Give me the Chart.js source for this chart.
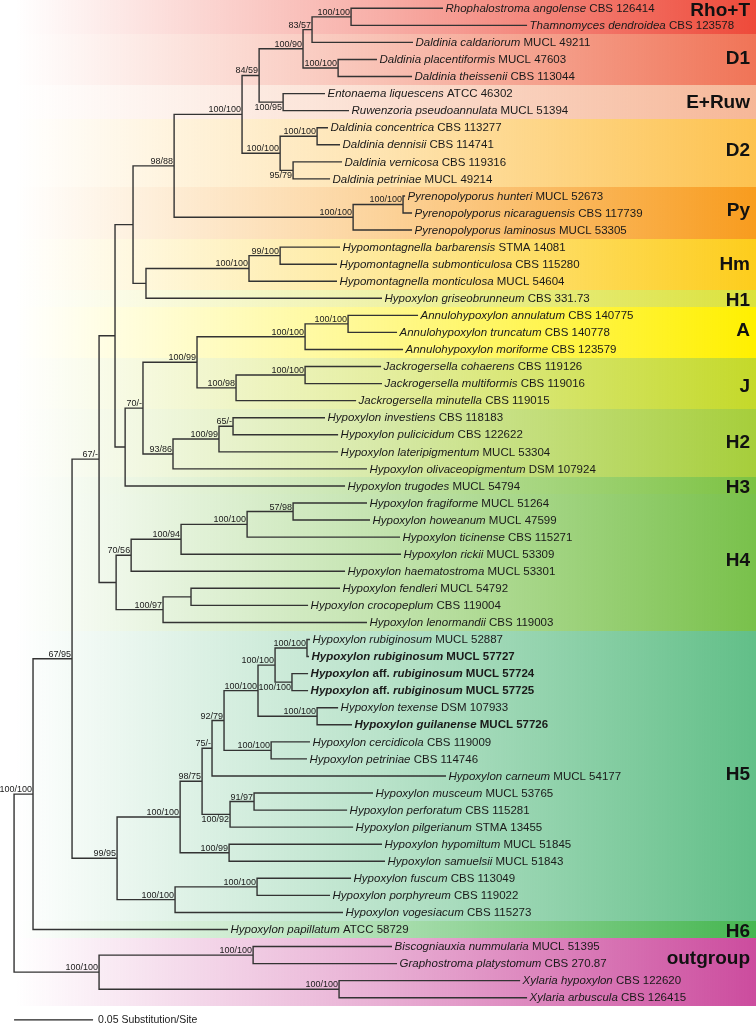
<!DOCTYPE html>
<html>
<head>
<meta charset="utf-8">
<script src="https://cdn.jsdelivr.net/npm/chart.js@4.4.1/dist/chart.umd.min.js"></script>
<style>
  html, body { margin: 0; padding: 0; background: #fff; }
  #wrap { width: 756px; height: 1024px; }
</style>
</head>
<body>
<div id="wrap"><canvas id="tree" width="756" height="1024"></canvas></div>
<script>
// Tips, top to bottom (row = index)
const tipTaxa = [
  'Rhophalostroma angolense', 'Thamnomyces dendroidea', 'Daldinia caldariorum', 'Daldinia placentiformis',
  'Daldinia theissenii', 'Entonaema liquescens', 'Ruwenzoria pseudoannulata', 'Daldinia concentrica',
  'Daldinia dennisii', 'Daldinia vernicosa', 'Daldinia petriniae', 'Pyrenopolyporus hunteri',
  'Pyrenopolyporus nicaraguensis', 'Pyrenopolyporus laminosus', 'Hypomontagnella barbarensis',
  'Hypomontagnella submonticulosa', 'Hypomontagnella monticulosa', 'Hypoxylon griseobrunneum',
  'Annulohypoxylon annulatum', 'Annulohypoxylon truncatum', 'Annulohypoxylon moriforme',
  'Jackrogersella cohaerens', 'Jackrogersella multiformis', 'Jackrogersella minutella',
  'Hypoxylon investiens', 'Hypoxylon pulicicidum', 'Hypoxylon lateripigmentum', 'Hypoxylon olivaceopigmentum',
  'Hypoxylon trugodes', 'Hypoxylon fragiforme', 'Hypoxylon howeanum', 'Hypoxylon ticinense',
  'Hypoxylon rickii', 'Hypoxylon haematostroma', 'Hypoxylon fendleri', 'Hypoxylon crocopeplum',
  'Hypoxylon lenormandii', 'Hypoxylon rubiginosum', 'Hypoxylon rubiginosum', 'Hypoxylon aff. rubiginosum',
  'Hypoxylon aff. rubiginosum', 'Hypoxylon texense', 'Hypoxylon guilanense', 'Hypoxylon cercidicola',
  'Hypoxylon petriniae', 'Hypoxylon carneum', 'Hypoxylon musceum', 'Hypoxylon perforatum',
  'Hypoxylon pilgerianum', 'Hypoxylon hypomiltum', 'Hypoxylon samuelsii', 'Hypoxylon fuscum',
  'Hypoxylon porphyreum', 'Hypoxylon vogesiacum', 'Hypoxylon papillatum', 'Biscogniauxia nummularia',
  'Graphostroma platystomum', 'Xylaria hypoxylon', 'Xylaria arbuscula'
];
const tipStrains = [
  'CBS 126414', 'CBS 123578', 'MUCL 49211', 'MUCL 47603', 'CBS 113044', 'ATCC 46302', 'MUCL 51394',
  'CBS 113277', 'CBS 114741', 'CBS 119316', 'MUCL 49214', 'MUCL 52673', 'CBS 117739', 'MUCL 53305',
  'STMA 14081', 'CBS 115280', 'MUCL 54604', 'CBS 331.73', 'CBS 140775', 'CBS 140778', 'CBS 123579',
  'CBS 119126', 'CBS 119016', 'CBS 119015', 'CBS 118183', 'CBS 122622', 'MUCL 53304', 'DSM 107924',
  'MUCL 54794', 'MUCL 51264', 'MUCL 47599', 'CBS 115271', 'MUCL 53309', 'MUCL 53301', 'MUCL 54792',
  'CBS 119004', 'CBS 119003', 'MUCL 52887', 'MUCL 57727', 'MUCL 57724', 'MUCL 57725', 'DSM 107933',
  'MUCL 57726', 'CBS 119009', 'CBS 114746', 'MUCL 54177', 'MUCL 53765', 'CBS 115281', 'STMA 13455',
  'MUCL 51845', 'MUCL 51843', 'CBS 113049', 'CBS 119022', 'CBS 115273', 'ATCC 58729', 'MUCL 51395',
  'CBS 270.87', 'CBS 122620', 'CBS 126415'
];
// distance from root, substitutions/site
const tipDepth = [
  0.2715, 0.3247, 0.2525, 0.2297, 0.2519, 0.1968, 0.2120, 0.1987, 0.2063, 0.2076,
  0.2000, 0.2475, 0.2519, 0.2519, 0.2063, 0.2044, 0.2044, 0.2329, 0.2557, 0.2424,
  0.2462, 0.2323, 0.2329, 0.2165, 0.1968, 0.2051, 0.2051, 0.2234, 0.2095, 0.2234,
  0.2253, 0.2443, 0.2449, 0.2095, 0.2063, 0.1861, 0.2234, 0.1873, 0.1867, 0.1861,
  0.1861, 0.2051, 0.2139, 0.1873, 0.1854, 0.2734, 0.2272, 0.2108, 0.2146, 0.2329,
  0.2348, 0.2133, 0.2000, 0.2082, 0.1354, 0.2392, 0.2424, 0.3203, 0.3247
];
const boldTips = [38, 39, 40, 42];

// Internal nodes: id = 100 + index; kids are tip rows or node ids
const nodeKids = [
  [0, 1], [100, 2], [3, 4], [101, 102], [5, 6], [103, 104], [7, 8], [9, 10], [106, 107], [105, 108],
  [11, 12], [110, 13], [109, 111], [14, 15], [113, 16], [114, 17], [112, 115], [18, 19], [117, 20], [21, 22],
  [119, 23], [118, 120], [24, 25], [122, 26], [123, 27], [121, 124], [125, 28], [116, 126], [29, 30], [128, 31],
  [129, 32], [130, 33], [34, 35], [132, 36], [131, 133], [127, 134], [37, 38], [39, 40], [136, 137], [41, 42],
  [138, 139], [43, 44], [140, 141], [142, 45], [46, 47], [144, 48], [143, 145], [49, 50], [146, 147], [51, 52],
  [149, 53], [148, 150], [135, 151], [152, 54], [55, 56], [57, 58], [154, 155], [153, 156]
];
const nodeDepth = [
  0.2133, 0.1886, 0.2051, 0.1829, 0.1703, 0.1551, 0.1918, 0.1766, 0.1684, 0.1443,
  0.2462, 0.2146, 0.1013, 0.1684, 0.1487, 0.0835, 0.0753, 0.2114, 0.1842, 0.1842,
  0.1405, 0.1158, 0.1386, 0.1297, 0.1006, 0.0816, 0.0703, 0.0639, 0.1766, 0.1475,
  0.1057, 0.0741, 0.1120, 0.0943, 0.0646, 0.0538, 0.1854, 0.1759, 0.1652, 0.1918,
  0.1544, 0.1627, 0.1329, 0.1253, 0.1519, 0.1367, 0.1190, 0.1361, 0.1051, 0.1538,
  0.1019, 0.0652, 0.0367, 0.0120, 0.1513, 0.2057, 0.0538, 0
];
const nodeSupport = [
  '100/100', '83/57', '100/100', '100/90', '100/95', '84/59', '100/100', '95/79', '100/100', '100/100',
  '100/100', '100/100', '98/88', '99/100', '100/100', '', '', '100/100', '100/100', '100/100',
  '100/98', '100/99', '65/-', '100/99', '93/86', '70/-', '', '', '57/98', '100/100',
  '100/94', '70/56', '', '100/97', '', '67/-', '100/100', '100/100', '100/100', '100/100',
  '100/100', '100/100', '92/79', '75/-', '91/97', '100/92', '98/75', '100/99', '100/100', '100/100',
  '100/100', '99/95', '67/95', '100/100', '100/100', '100/100', '100/100', ''
];
const supportBelow = [104, 107, 137, 145];

// Clades (first row, last row)
const groupNames = ['Rho+T', 'D1', 'E+Ruw', 'D2', 'Py', 'Hm', 'H1', 'A', 'J', 'H2', 'H3', 'H4', 'H5', 'H6', 'outgroup'];
const groupFirst = [0, 2, 5, 7, 11, 14, 17, 18, 21, 24, 28, 29, 37, 54, 55];
const groupLast  = [1, 4, 6, 10, 13, 16, 17, 20, 23, 27, 28, 36, 53, 54, 58];
const groupLabelRow = [0.1, 2.9, 5.45, 8.3, 11.8, 14.95, 17.1, 18.85, 22.1, 25.4, 28.05, 32.35, 44.85, 54.05, 55.65];
const groupColors = ['#ee4a3a', '#f07457', '#f6b798', '#fdc24f', '#f89c1e', '#fdcd1c', '#dbe23c', '#fff000',
                     '#c4d92a', '#a6ce3b', '#7cc242', '#79c14b', '#62bf88', '#45b650', '#cc4c9e'];

const scaleBarLength = 0.05;
const scaleBarText = '0.05 Substitution/Site';

const FONT = '"Liberation Sans", Arial, Helvetica, sans-serif';

// node geometry
const nodeY = {};
function rowOf(id) {
  if (id < 100) return id;
  if (nodeY[id] !== undefined) return nodeY[id];
  const k = nodeKids[id - 100];
  nodeY[id] = (rowOf(k[0]) + rowOf(k[1])) / 2;
  return nodeY[id];
}
function depthOf(id) { return id < 100 ? tipDepth[id] : nodeDepth[id - 100]; }

const treePts = [];
nodeKids.forEach((k, i) => {
  const id = 100 + i, d = nodeDepth[i];
  const a = k[0], b = k[1];
  treePts.push({ x: depthOf(a), y: rowOf(a) }, { x: d, y: rowOf(a) },
               { x: d, y: rowOf(b) }, { x: depthOf(b), y: rowOf(b) }, { x: d, y: null });
  rowOf(id);
});

const barRow = 59.3;
const barPts = [{ x: 0, y: barRow }, { x: scaleBarLength, y: barRow }];

function hexA(hex, a) {
  const n = parseInt(hex.slice(1), 16);
  return `rgba(${(n >> 16) & 255},${(n >> 8) & 255},${n & 255},${a})`;
}

const bandPlugin = {
  id: 'bands',
  beforeDatasetsDraw(chart) {
    const { ctx, scales: { y } } = chart;
    ctx.save();
    groupNames.forEach((g, i) => {
      const top = Math.round(y.getPixelForValue(groupFirst[i] - 0.5));
      const bot = Math.round(y.getPixelForValue(groupLast[i] + 0.5));
      const grad = ctx.createLinearGradient(15, 0, chart.width, 0);
      grad.addColorStop(0, hexA(groupColors[i], 0));
      grad.addColorStop(0.5, hexA(groupColors[i], 0.45));
      grad.addColorStop(1, hexA(groupColors[i], 1));
      ctx.fillStyle = grad;
      ctx.fillRect(0, top, chart.width, bot - top);
    });
    ctx.restore();
  }
};

const labelPlugin = {
  id: 'labels',
  afterDatasetsDraw(chart) {
    const { ctx, scales: { x, y } } = chart;
    ctx.save();
    ctx.fillStyle = '#1a1a1a';
    ctx.textAlign = 'left';
    ctx.textBaseline = 'middle';
    // tip labels
    tipTaxa.forEach((name, i) => {
      const bold = boldTips.includes(i) ? 'bold ' : '';
      let cx = x.getPixelForValue(tipDepth[i]) + 2.5;
      const cy = y.getPixelForValue(i) + 0.5;
      name.split(' ').forEach(w => {
        ctx.font = (w === 'aff.' ? '' : 'italic ') + bold + '11.5px ' + FONT;
        ctx.fillText(w, cx, cy);
        cx += ctx.measureText(w + ' ').width;
      });
      ctx.font = bold + '11.5px ' + FONT;
      ctx.fillText(tipStrains[i], cx, cy);
    });
    // support values
    ctx.font = '9px ' + FONT;
    ctx.textAlign = 'right';
    nodeSupport.forEach((s, i) => {
      if (!s) return;
      const id = 100 + i;
      const px = x.getPixelForValue(nodeDepth[i]) - 1;
      const py = y.getPixelForValue(nodeY[id]);
      if (supportBelow.includes(id)) {
        ctx.textBaseline = 'top';
        ctx.fillText(s, px, py + 1);
      } else {
        ctx.textBaseline = 'bottom';
        ctx.fillText(s, px, py);
      }
    });
    // clade names
    ctx.font = 'bold 19px ' + FONT;
    ctx.textAlign = 'right';
    ctx.textBaseline = 'middle';
    ctx.fillStyle = '#111';
    groupNames.forEach((g, i) => {
      ctx.fillText(g, chart.width - 6, y.getPixelForValue(groupLabelRow[i]) + 1);
    });
    // scale bar text
    ctx.font = '10.5px ' + FONT;
    ctx.textAlign = 'left';
    ctx.fillStyle = '#1a1a1a';
    ctx.fillText(scaleBarText, x.getPixelForValue(scaleBarLength) + 5, y.getPixelForValue(barRow) + 0.5);
    ctx.restore();
  }
};

const ctx = document.getElementById('tree').getContext('2d');
new Chart(ctx, {
  type: 'scatter',
  data: {
    datasets: [
      { data: treePts, showLine: true, spanGaps: false, borderColor: '#333', borderWidth: 1.4,
        borderJoinStyle: 'miter', borderCapStyle: 'butt', pointRadius: 0, tension: 0 },
      { data: barPts, showLine: true, borderColor: '#222', borderWidth: 1.4, pointRadius: 0 }
    ]
  },
  options: {
    responsive: false,
    animation: false,
    events: [],
    layout: { padding: 0 },
    scales: {
      x: { type: 'linear', min: -0.0089, max: 0.4696, display: false },
      y: { type: 'linear', min: -0.4865, max: 59.54, reverse: true, display: false }
    },
    plugins: { legend: { display: false }, tooltip: { enabled: false } }
  },
  plugins: [bandPlugin, labelPlugin]
});
</script>
</body>
</html>
